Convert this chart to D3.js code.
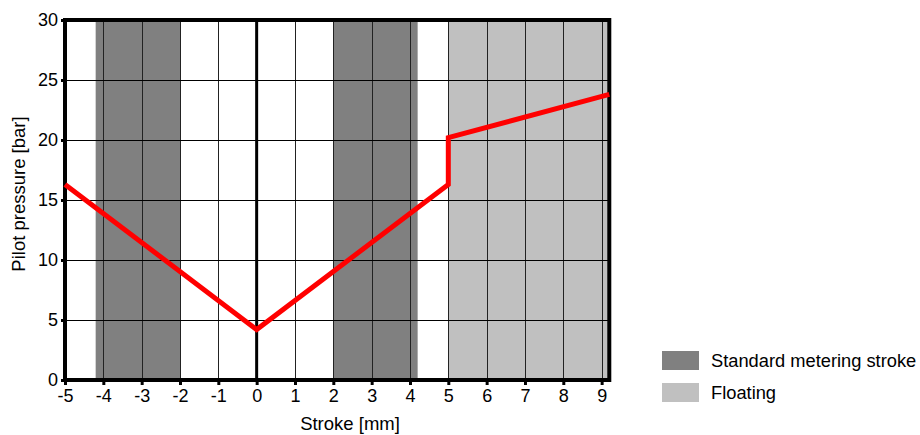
<!DOCTYPE html>
<html>
<head>
<meta charset="utf-8">
<script src="https://cdn.jsdelivr.net/npm/d3@7"></script>
<style>
  html, body { margin: 0; padding: 0; background: #fff; }
  svg { display: block; font-family: "Liberation Sans", Arial, sans-serif; }
</style>
</head>
<body>
<svg id="chart" width="920" height="435"></svg>
<script>
// Pilot pressure curve: stroke [mm] vs pressure [bar]
const strokeMm = [-5, 0, 5, 5, 9.2];
const pressureBar = [16.3, 4.2, 16.3, 20.2, 23.8];

// Shaded stroke ranges
const bandNames = ["Standard metering stroke", "Standard metering stroke", "Floating"];
const bandStart = [-4.2, 2, 5];
const bandEnd = [-2, 4.2, 9.2];

// Axis ticks
const xTicks = [-5, -4, -3, -2, -1, 0, 1, 2, 3, 4, 5, 6, 7, 8, 9];
const yTicks = [0, 5, 10, 15, 20, 25, 30];

const legendNames = ["Standard metering stroke", "Floating"];
const legendColors = ["#808080", "#c0c0c0"];

const svg = d3.select("#chart");
const x = d3.scaleLinear().domain([-5, 9.2]).range([65, 609.3]);
const y = d3.scaleLinear().domain([0, 30]).range([380, 20]);
const color = d3.scaleOrdinal().domain(legendNames).range(legendColors);

// bands
svg.append("g").selectAll("rect")
  .data(bandStart.map((s, i) => ({ s, e: bandEnd[i], name: bandNames[i] })))
  .join("rect")
  .attr("x", d => x(d.s))
  .attr("y", y(30))
  .attr("width", d => x(d.e) - x(d.s))
  .attr("height", y(0) - y(30))
  .attr("fill", d => color(d.name));

// grid
const grid = svg.append("g").attr("stroke", "#000").attr("stroke-width", 1);
grid.selectAll("line.v").data(xTicks).join("line")
  .attr("class", "v")
  .attr("x1", d => Math.round(x(d)) + 0.5).attr("x2", d => Math.round(x(d)) + 0.5)
  .attr("y1", y(30)).attr("y2", y(0))
  .attr("stroke", "#222");
grid.selectAll("line.h").data(yTicks).join("line")
  .attr("class", "h")
  .attr("x1", x(-5)).attr("x2", x(9.2))
  .attr("y1", d => Math.round(y(d)) + 0.5).attr("y2", d => Math.round(y(d)) + 0.5);

// vertical line at zero stroke
svg.append("line")
  .attr("x1", x(0)).attr("x2", x(0))
  .attr("y1", y(30)).attr("y2", y(0))
  .attr("stroke", "#000").attr("stroke-width", 3);

// axes
const xAxis = svg.append("g")
  .attr("transform", `translate(0,${y(0)})`)
  .call(d3.axisBottom(x).tickValues(xTicks).tickSize(5).tickPadding(4).tickFormat(d3.format("d")));
const yAxis = svg.append("g")
  .attr("transform", `translate(${x(-5)},0)`)
  .call(d3.axisLeft(y).tickValues(yTicks).tickSize(4).tickPadding(3));
[xAxis, yAxis].forEach(a => {
  a.select(".domain").remove();
  a.selectAll(".tick line").attr("stroke", "#000").attr("stroke-width", 3);
  a.selectAll(".tick text").attr("fill", "#000")
    .style("font-size", "18px").style("font-family", "Liberation Sans, Arial, sans-serif");
});
xAxis.selectAll(".tick text").text(d => d < 0 ? "-" + Math.abs(d) : d);

// frame
svg.append("rect")
  .attr("x", x(-5)).attr("y", y(30))
  .attr("width", x(9.2) - x(-5)).attr("height", y(0) - y(30))
  .attr("fill", "none").attr("stroke", "#000").attr("stroke-width", 4);

// pressure curve
const line = d3.line().x((d, i) => x(strokeMm[i])).y(d => y(d));
svg.append("path")
  .datum(pressureBar)
  .attr("d", line)
  .attr("fill", "none")
  .attr("stroke", "#ff0000")
  .attr("stroke-width", 5)
  .attr("stroke-linejoin", "miter");

// axis titles
svg.append("text")
  .attr("x", 350).attr("y", 430)
  .attr("text-anchor", "middle")
  .style("font-size", "18.5px")
  .text("Stroke [mm]");
svg.append("text")
  .attr("transform", "translate(25,194) rotate(-90)")
  .attr("text-anchor", "middle")
  .style("font-size", "18.5px")
  .text("Pilot pressure [bar]");

// legend
const legend = svg.append("g").selectAll("g")
  .data(legendNames).join("g")
  .attr("transform", (d, i) => `translate(662,${351 + i * 32})`);
legend.append("rect")
  .attr("width", 37).attr("height", 19)
  .attr("fill", d => color(d));
legend.append("text")
  .attr("x", 49).attr("y", 16)
  .style("font-size", "18.3px")
  .text(d => d);
</script>
</body>
</html>
